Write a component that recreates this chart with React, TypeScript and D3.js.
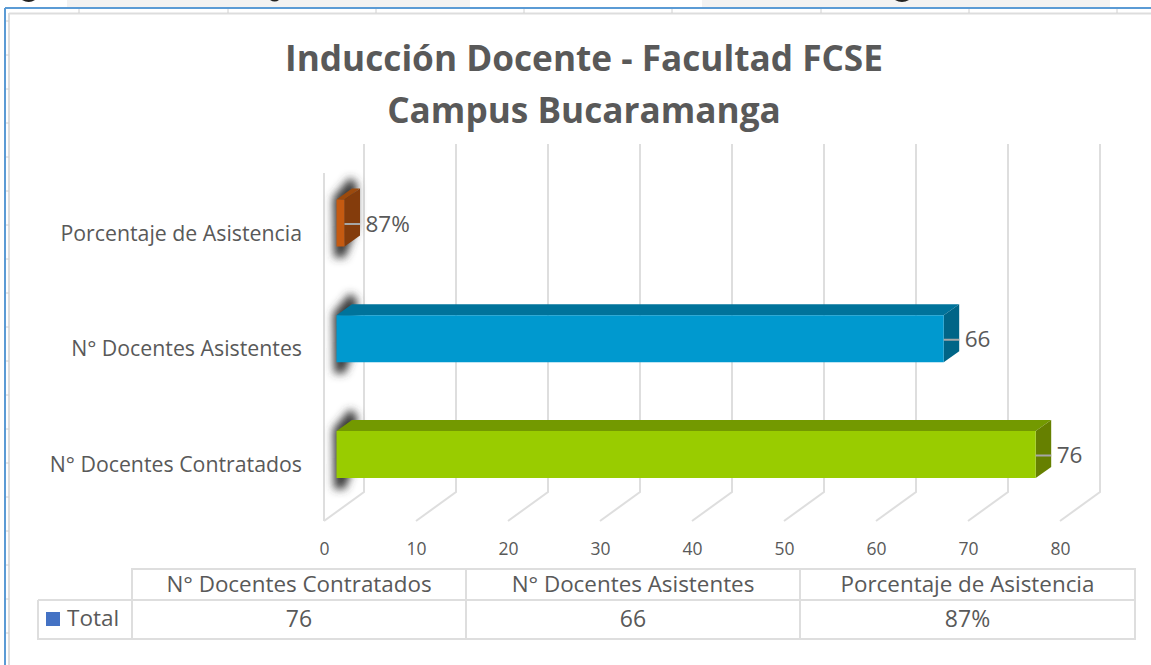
import React from "react";
import * as d3 from "d3";

const categories = ["Porcentaje de Asistencia", "N° Docentes Asistentes", "N° Docentes Contratados"];
const values = [0.87, 66, 76];
const valueLabels = ["87%", "66", "76"];
const frontColors = ["#C55A11", "#0099CF", "#99CC00"];
const topColors = ["#9C4A0D", "#00739B", "#739900"];
const sideColors = ["#843C0C", "#006587", "#668000"];
const xTicks = [0, 10, 20, 30, 40, 50, 60, 70, 80];
const tableHeaders = ["N° Docentes Contratados", "N° Docentes Asistentes", "Porcentaje de Asistencia"];
const tableValues = ["76", "66", "87%"];
const titleLines = ["Inducción Docente - Facultad FCSE", "Campus Bucaramanga"];
const sheetColumnTicks = [79, 228, 376, 524, 672, 821, 969, 1117];
const sheetRowTicks = [21, 55, 89, 123, 157, 191, 225, 259, 293, 327, 361, 395, 429, 463, 497, 531, 565, 599, 633];

const FONT = "'Open Sans', sans-serif";
const GRID = "#DEDEDE";
const TXT = "#595959";

export default function App() {
  const x = d3.scaleLinear().domain([0, 80]).range([324, 1060]);
  const y = d3.scalePoint<string>().domain(categories).range([223, 454.5]);
  const barH = 47, dx = 15.5, dy = -11, barX = 12.5, depthX = 40, depthY = -29;
  const floorY = 521;
  const tbl = { l: 132, r: 1135, t: 569, m: 600, b: 639, hl: 38, c1: 466, c2: 800 };
  const colCenters = [(tbl.l + tbl.c1) / 2, (tbl.c1 + tbl.c2) / 2, (tbl.c2 + tbl.r) / 2];
  const line = d3.line();
  const poly = (p: [number, number][]) => line(p) + "Z";

  return (
    <svg width={1151} height={665} style={{ position: "fixed", left: 0, top: 0, background: "#fff" }} fontFamily={FONT}>
      <defs>
        <filter id="soft" filterUnits="userSpaceOnUse" x={300} y={150} width={100} height={380}>
          <feGaussianBlur stdDeviation="4.5" />
        </filter>
      </defs>
      {/* surrounding worksheet */}
      <rect x={67} y={0} width={403} height={7} fill="#F2F2F2" />
      <rect x={702} y={0} width={408} height={7} fill="#F2F2F2" />
      <path d="M22 0 Q29 4 35 0Z M270 0 Q275 3 279 0Z M895 0 Q902 4 909 0Z" fill="#222" />
      <line x1={5} x2={1151} y1={8} y2={8} stroke="#5B9BD5" strokeWidth={2} />
      <line x1={5} x2={5} y1={8} y2={665} stroke="#5B9BD5" strokeWidth={2} />
      <line x1={9} x2={1151} y1={13.5} y2={13.5} stroke="#DDDDDD" strokeWidth={2} />
      <line x1={9} x2={9} y1={13} y2={665} stroke="#DDDDDD" strokeWidth={2} />
      {sheetColumnTicks.map((t) => <line key={t} x1={t} x2={t} y1={9} y2={13} stroke="#D0D0D0" />)}
      {sheetRowTicks.map((t) => <line key={t} x1={6} x2={9} y1={t} y2={t} stroke="#D0D0D0" />)}

      {/* title */}
      {titleLines.map((t, i) => (
        <text key={t} x={584} y={71 + i * 52} textAnchor="middle" fontSize={35.2} fontWeight={700} fill={TXT}>{t}</text>
      ))}

      {/* 3D grid */}
      <g stroke={GRID} strokeWidth={2} fill="none">
        <line x1={x(0)} x2={x(0)} y1={floorY + depthY - 319} y2={floorY} />
        {xTicks.map((t) => (
          <path key={t} d={line([
            [x(t) + depthX, 144],
            [x(t) + depthX, floorY + depthY],
            [x(t), floorY],
          ]) as string} />
        ))}
      </g>
      {xTicks.map((t) => (
        <text key={t} x={x(t) + 0.5} y={555} textAnchor="middle" fontSize={17.5} fill={TXT}>{t}</text>
      ))}

      {/* category labels */}
      {categories.map((c) => (
        <text key={c} x={302} y={(y(c) as number) + 17.5} textAnchor="end" fontSize={21.3} fill={TXT}>{c}</text>
      ))}

      {/* bars */}
      {categories.map((c, i) => {
        const cy = y(c) as number;
        const top = cy - barH / 2, bot = cy + barH / 2;
        const x0 = x(0) + barX;
        const x1 = x(values[i]) + barX;
        return (
          <g key={c}>
            <path filter="url(#soft)" fill="#3A3A3A" d={poly([
              [333, top - 2], [350, top - 22], [357, top - 16], [357, bot - 20], [345, bot + 11], [334, bot + 11],
            ])} />
            <path fill={topColors[i]} d={poly([[x0, top], [x0 + dx, top + dy], [x1 + dx, top + dy], [x1, top]])} />
            <path fill={sideColors[i]} d={poly([[x1, top], [x1 + dx, top + dy], [x1 + dx, bot + dy], [x1, bot]])} />
            <rect x={x0} y={top} width={x1 - x0} height={barH} fill={frontColors[i]} />
            <line x1={x1} x2={x1 + dx} y1={cy + 1} y2={cy + 1} stroke="#A6A6A6" strokeWidth={2} />
            <text x={x1 + 21} y={cy + 8.5} fontSize={22.5} fill={TXT}>{valueLabels[i]}</text>
          </g>
        );
      })}

      {/* data table */}
      <g stroke={GRID} strokeWidth={2} fill="none">
        <path d={`M${tbl.l} ${tbl.b}V${tbl.t}H${tbl.r}V${tbl.b}Z`} />
        <path d={`M${tbl.hl} ${tbl.m}H${tbl.r}M${tbl.hl} ${tbl.m}V${tbl.b}H${tbl.l}`} />
        <path d={`M${tbl.c1} ${tbl.t}V${tbl.b}M${tbl.c2} ${tbl.t}V${tbl.b}`} />
      </g>
      <rect x={46} y={612} width={14} height={14} fill="#4472C4" />
      <text x={67} y={626} fontSize={22.5} fill={TXT}>Total</text>
      {tableHeaders.map((h, i) => (
        <text key={h} x={colCenters[i]} y={592} textAnchor="middle" fontSize={22.4} fill={TXT}>{h}</text>
      ))}
      {tableValues.map((v, i) => (
        <text key={i} x={colCenters[i]} y={627} textAnchor="middle" fontSize={23} fill={TXT}>{v}</text>
      ))}
    </svg>
  );
}
